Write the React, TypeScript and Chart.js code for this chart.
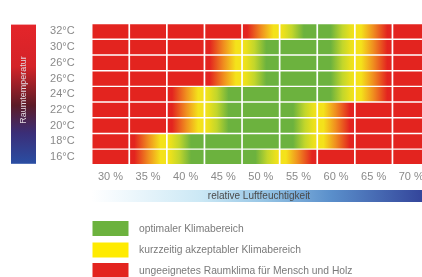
import { useEffect, useRef } from 'react';
import { Chart, registerables } from 'chart.js';

Chart.register(...registerables);

const humidityLabels = ['30 %', '35 %', '40 %', '45 %', '50 %', '55 %', '60 %', '65 %', '70 %'];
const temperatureLabels = ['32°C', '30°C', '26°C', '26°C', '24°C', '22°C', '20°C', '18°C', '16°C'];

// climate class at the left / right edge of each cell:
// R = unsuitable, Y = short-term acceptable, G = optimal
const row32 = ['R', 'R', 'R', 'R', 'RY', 'YG', 'GY', 'YR', 'R'];
const row30 = ['R', 'R', 'R', 'RY', 'YG', 'G', 'GY', 'YR', 'R'];
const row26a = ['R', 'R', 'R', 'RY', 'YG', 'G', 'GY', 'YR', 'R'];
const row26b = ['R', 'R', 'R', 'RY', 'YG', 'G', 'GY', 'YR', 'R'];
const row24 = ['R', 'R', 'RY', 'YG', 'G', 'G', 'GY', 'YR', 'R'];
const row22 = ['R', 'R', 'RY', 'YG', 'G', 'GY', 'YR', 'R', 'R'];
const row20 = ['R', 'R', 'RY', 'YG', 'G', 'GY', 'YR', 'R', 'R'];
const row18 = ['R', 'RY', 'YG', 'G', 'G', 'GY', 'YR', 'R', 'R'];
const row16 = ['R', 'RY', 'YG', 'G', 'GY', 'YR', 'R', 'R', 'R'];
const rows = [row32, row30, row26a, row26b, row24, row22, row20, row18, row16];

const legendLabels = [
  'optimaler Klimabereich',
  'kurzzeitig akzeptabler Klimabereich',
  'ungeeignetes Raumklima für Mensch und Holz',
];
const yTitle = 'Raumtemperatur';
const xTitle = 'relative Luftfeuchtigkeit';

const RED = '#e3241f';
const ORANGE = '#f0901f';
const YELLOW = '#f4e21b';
const YG = '#c2d62b';
const GREEN = '#6cb23e';
const FONT = '"Liberation Sans", Arial, sans-serif';
const CAT_PCT = 0.955;
const INSET = 0.046;

const solid: Record<string, string> = { R: RED, Y: YELLOW, G: GREEN };
const transitions: Record<string, [number, string][]> = {
  RY: [[0, RED], [0.12, RED], [0.52, ORANGE], [0.85, YELLOW], [1, YELLOW]],
  YG: [[0, YELLOW], [0.1, '#e8e01d'], [0.32, YG], [0.65, GREEN], [1, GREEN]],
};

function cellFill(ctx: any) {
  const code: string = rows[ctx.datasetIndex]?.[ctx.dataIndex] ?? 'R';
  if (code.length === 1) return solid[code];
  const chart = ctx.chart;
  const xs = chart.scales?.x;
  if (!xs) return solid[code[0]];
  const c = xs.getPixelForValue(ctx.dataIndex);
  const half = (xs.width / humidityLabels.length) * CAT_PCT / 2;
  const g = chart.ctx.createLinearGradient(c - half, 0, c + half, 0);
  const fwd = transitions[code];
  if (fwd) {
    fwd.forEach(([p, col]) => g.addColorStop(p, col));
  } else {
    const rev = transitions[code[1] + code[0]];
    rev.forEach(([p, col]) => g.addColorStop(1 - p, col));
  }
  return g;
}

const decorPlugin = {
  id: 'decor',
  afterDraw(chart: any) {
    const ctx: CanvasRenderingContext2D = chart.ctx;
    const area = chart.chartArea;
    ctx.save();
    // temperature bar
    const tb = { x: 11, y: area.top + 1, w: 25, h: area.bottom - area.top - 2 };
    const tg = ctx.createLinearGradient(0, tb.y, 0, tb.y + tb.h);
    tg.addColorStop(0, '#e4252a');
    tg.addColorStop(0.3, '#d42328');
    tg.addColorStop(0.58, '#5c1b27');
    tg.addColorStop(0.78, '#3a2e78');
    tg.addColorStop(1, '#2a4ea3');
    ctx.fillStyle = tg;
    ctx.fillRect(tb.x, tb.y, tb.w, tb.h);
    ctx.translate(tb.x + tb.w / 2, 90);
    ctx.rotate(-Math.PI / 2);
    ctx.fillStyle = '#e2d8e0';
    ctx.font = `9px ${FONT}`;
    ctx.textAlign = 'center';
    ctx.textBaseline = 'middle';
    ctx.fillText(yTitle, 0, 0);
    ctx.restore();

    // humidity bar
    ctx.save();
    const hx0 = area.left;
    const hx1 = 424;
    const hg = ctx.createLinearGradient(hx0, 0, hx1, 0);
    hg.addColorStop(0, 'rgba(255,255,255,1)');
    hg.addColorStop(0.06, '#f6fbfe');
    hg.addColorStop(0.33, '#cbe8f5');
    hg.addColorStop(0.52, '#96c5e5');
    hg.addColorStop(0.72, '#5a8fcb');
    hg.addColorStop(1, '#33449a');
    ctx.fillStyle = hg;
    ctx.fillRect(hx0, 190, chart.width - hx0, 12);
    ctx.fillStyle = '#4a4a4a';
    ctx.font = `10px ${FONT}`;
    ctx.textAlign = 'center';
    ctx.textBaseline = 'middle';
    ctx.fillText(xTitle, 259, 196.5);

    // legend
    const colors = [GREEN, '#ffeb00', RED];
    const tops = [221, 242.5, 263];
    legendLabels.forEach((lab, i) => {
      ctx.fillStyle = colors[i];
      ctx.fillRect(92.5, tops[i], 36, 15);
      ctx.fillStyle = '#7a7a7a';
      ctx.font = `10.3px ${FONT}`;
      ctx.textAlign = 'left';
      ctx.textBaseline = 'middle';
      ctx.fillText(lab, 139, tops[i] + 8);
    });
    ctx.restore();
  },
};

export default function App() {
  const ref = useRef<HTMLCanvasElement>(null);
  useEffect(() => {
    if (!ref.current) return;
    const chart = new Chart(ref.current, {
      type: 'bar',
      data: {
        labels: humidityLabels,
        datasets: rows.map((row, i) => ({
          label: temperatureLabels[i],
          data: row.map(() => [8 - i + INSET, 9 - i - INSET]) as any,
          backgroundColor: cellFill as any,
          borderWidth: 0,
          grouped: false,
          barPercentage: 1,
          categoryPercentage: CAT_PCT,
          yAxisID: 'v',
        })),
      },
      options: {
        animation: false,
        responsive: false,
        devicePixelRatio: 1,
        layout: { padding: { top: 9.2, right: 14.95, bottom: 92.2, left: 0 } },
        plugins: { legend: { display: false }, tooltip: { enabled: false } },
        scales: {
          x: {
            type: 'category',
            offset: true,
            grid: { display: false, drawTicks: false },
            border: { display: false },
            ticks: { color: '#8a8a8a', font: { family: FONT, size: 11 }, padding: 6, maxRotation: 0, autoSkip: false },
            afterFit: (s: any) => { s.height = 20; },
          },
          v: { type: 'linear', display: false, min: 0, max: 9 },
          y: {
            type: 'category',
            position: 'left',
            labels: temperatureLabels,
            offset: true,
            grid: { display: false, drawTicks: false },
            border: { display: false },
            ticks: { color: '#8a8a8a', font: { family: FONT, size: 11 }, padding: 17, autoSkip: false },
            afterFit: (s: any) => { s.width = 91.65; },
          },
        },
      },
      plugins: [decorPlugin],
    });
    return () => chart.destroy();
  }, []);
  return (
    <div style={{ position: 'fixed', left: 0, top: 0, width: '100vw', height: '100vh', overflow: 'hidden', background: '#fff' }}>
      <canvas ref={ref} width={445} height={277} style={{ display: 'block' }} />
    </div>
  );
}
